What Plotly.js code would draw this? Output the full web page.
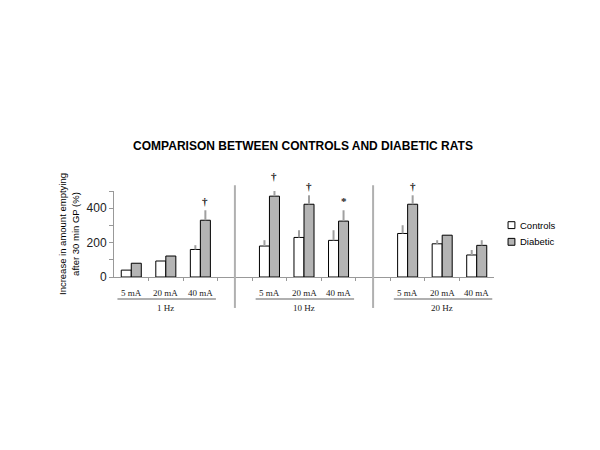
<!DOCTYPE html>
<html>
<head>
<meta charset="utf-8">
<script src="https://cdn.plot.ly/plotly-3.0.1.min.js"></script>
<style>html,body{margin:0;padding:0;background:#fff;}#chart{width:600px;height:450px;}</style>
</head>
<body>
<div id="chart"></div>
<script>
// ---- data ----
var groups = ["1 Hz", "10 Hz", "20 Hz"];
var currents = ["5 mA", "20 mA", "40 mA"];
var xPos = [0, 1, 2, 4, 5, 6, 8, 9, 10];
var controls = [40, 93, 160, 180, 230, 213, 253, 193, 128];
var controlsErr = [0, 0, 25, 34, 42, 59, 48, 21, 29];
var diabetic = [80, 122, 330, 470, 423, 325, 423, 243, 184];
var diabeticErr = [0, 0, 58, 63, 52, 63, 52, 0, 30];
var marks = ["", "", "\u2020", "\u2020", "\u2020", "*", "\u2020", "", ""];
var yRange = [0, 500];
var yTicks = [0, 100, 200, 300, 400, 500];
var yTickText = ["0", "", "200", "", "400", ""];
var seriesNames = ["Controls", "Diabetic"];
var seriesColors = ["#ffffff", "#b4b4b4"];

var errStyle = {color: "#a0a0a0", thickness: 2, width: 0};
function zeros(a) { return a.map(function(){ return 0; }); }

var traces = [
  {type: "bar", name: seriesNames[0], x: xPos, y: controls, showlegend: false,
   marker: {color: seriesColors[0], line: {color: "#000", width: 1}},
   error_y: Object.assign({type: "data", symmetric: false, array: controlsErr, arrayminus: zeros(controlsErr)}, errStyle),
   cliponaxis: false},
  {type: "bar", name: seriesNames[1], x: xPos, y: diabetic, showlegend: false,
   marker: {color: seriesColors[1], line: {color: "#000", width: 1}},
   error_y: Object.assign({type: "data", symmetric: false, array: diabeticErr, arrayminus: zeros(diabeticErr)}, errStyle),
   cliponaxis: false}
];

var serif = "Liberation Serif, Times New Roman, serif";
var sans = "Liberation Sans, Arial, sans-serif";
var annotations = [];
var shapes = [];
var halfTicks = [];
xPos.forEach(function(x, i) {
  annotations.push({x: x, y: 0, xref: "x", yref: "paper", text: currents[i % 3], showarrow: false,
    yanchor: "middle", yshift: -16, font: {family: serif, size: 9, color: "#222"}});
  if (marks[i]) {
    annotations.push({x: x + 0.145, y: (diabetic[i] + diabeticErr[i]) / yRange[1], xref: "x", yref: "paper",
      text: "<b>" + marks[i] + "</b>", showarrow: false, yanchor: "bottom", yshift: 1,
      font: {family: serif, size: 11, color: "#222"}});
  }
});
groups.forEach(function(g, gi) {
  var start = xPos[gi * 3];
  annotations.push({x: start + 1, y: 0, xref: "x", yref: "paper", text: g, showarrow: false,
    yanchor: "middle", yshift: -31, font: {family: serif, size: 9, color: "#222"}});
  shapes.push({type: "line", xref: "x", yref: "paper", x0: start - 0.4, x1: start + 2.45, y0: -0.255, y1: -0.255,
    line: {color: "#b0b0b0", width: 2}});
  if (gi > 0) {
    shapes.push({type: "line", xref: "x", yref: "paper", x0: start - 1, x1: start - 1, y0: -0.36, y1: 1.067,
      line: {color: "#b0b0b0", width: 2}});
  }
});
for (var k = 0; k < 10; k++) halfTicks.push(k + 0.5);

// legend (drawn as small squares + labels)
var legY = [0.603, 0.409];
seriesNames.forEach(function(n, i) {
  shapes.push({type: "rect", xref: "paper", yref: "paper", x0: 1.037, x1: 1.055,
    y0: legY[i] - 0.04, y1: legY[i] + 0.04, fillcolor: seriesColors[i], line: {color: "#000", width: 1}});
  annotations.push({x: 1.063, y: legY[i], xref: "paper", yref: "paper", text: n, showarrow: false,
    xanchor: "left", yanchor: "middle", font: {family: sans, size: 9.5, color: "#000"}});
});

var layout = {
  width: 600, height: 450,
  margin: {l: 114, r: 106, t: 190.75, b: 173, pad: 0},
  paper_bgcolor: "#fff", plot_bgcolor: "#fff",
  title: {text: "<b>COMPARISON BETWEEN CONTROLS AND DIABETIC RATS</b>", x: 0.505, xanchor: "center",
    y: 1 - 146 / 450, yref: "container", yanchor: "middle",
    font: {family: sans, size: 12, color: "#000"}},
  barmode: "group", bargap: 0.42, bargroupgap: 0,
  showlegend: false,
  xaxis: {range: [-0.5, 10.5], showgrid: false, zeroline: false, showline: true, linecolor: "#999", linewidth: 1,
    tickvals: halfTicks, ticks: "outside", ticklen: 3, tickcolor: "#999", showticklabels: false, fixedrange: true},
  yaxis: {range: yRange, showgrid: false, zeroline: false, showline: true, linecolor: "#999", linewidth: 1,
    tickvals: yTicks, ticktext: yTickText, ticks: "outside", ticklen: 4, tickcolor: "#999",
    tickfont: {family: sans, size: 12, color: "#222"},
    title: {text: "Increase in amount emptying<br>after 30 min GP (%)", standoff: 5,
      font: {family: sans, size: 9.5, color: "#000"}}},
  annotations: annotations,
  shapes: shapes
};

Plotly.newPlot("chart", traces, layout, {displayModeBar: false, staticPlot: true});
</script>
</body>
</html>
